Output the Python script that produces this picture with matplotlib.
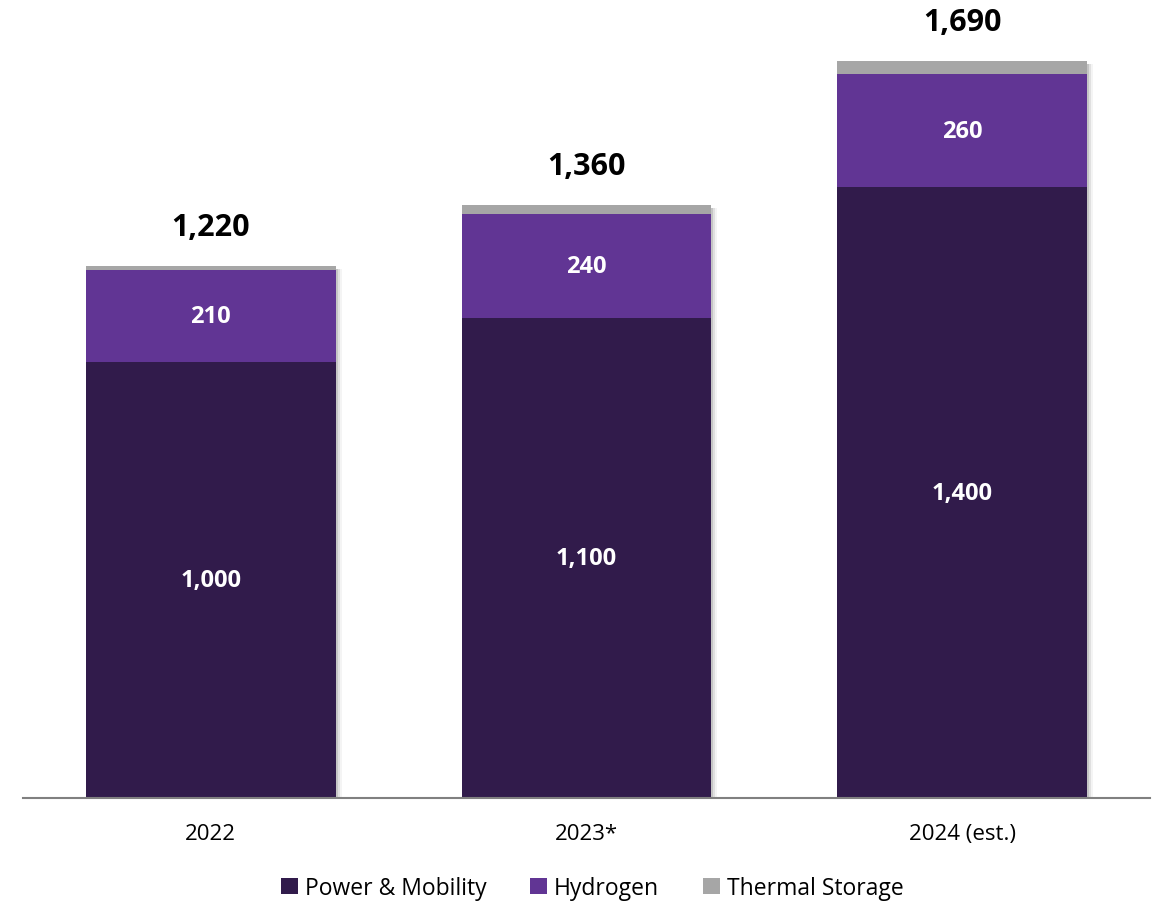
import numpy as np
import matplotlib.pyplot as plt

plt.rcParams['font.family'] = ['Open Sans', 'DejaVu Sans']

# data
years = ['2022', '2023*', '2024 (est.)']
power_mobility = [1000, 1100, 1400]
hydrogen = [210, 240, 260]
thermal = [10, 20, 30]
totals = [1220, 1360, 1690]

series_names = ['Power & Mobility', 'Hydrogen', 'Thermal Storage']
colors = ['#311B4B', '#613594', '#A6A6A6']

fig = plt.figure(figsize=(11.52, 9.03), dpi=100)
ax = fig.add_axes([23 / 1152, 1 - 799 / 903, 1127 / 1152, 785 / 903])

x = np.arange(len(years))
w = 0.665
px = 1 / 376  # one pixel in x data units

# soft shadow behind each stack, to the right
stack_h = np.array(power_mobility) + np.array(hydrogen) + np.array(thermal)
for k, a in zip([2, 4, 6], [0.25, 0.15, 0.08]):
    ax.bar(x + k * px, stack_h - 6, w, color='#777777', alpha=a, linewidth=0, zorder=1)

bottom = np.zeros(len(years))
for vals, name, c in zip([power_mobility, hydrogen, thermal], series_names, colors):
    ax.bar(x, vals, w, bottom=bottom, color=c, label=name, linewidth=0, zorder=2)
    bottom += np.array(vals)

# segment labels
for i in range(len(years)):
    ax.text(x[i], power_mobility[i] / 2, f'{power_mobility[i]:,}', ha='center', va='center',
            color='white', fontsize=17, fontweight='bold', zorder=3)
    ax.text(x[i], power_mobility[i] + hydrogen[i] / 2, f'{hydrogen[i]:,}', ha='center', va='center',
            color='white', fontsize=17, fontweight='bold', zorder=3)
    ax.text(x[i], totals[i] + 90, f'{totals[i]:,}', ha='center', va='center',
            color='black', fontsize=22, fontweight='bold', zorder=3)

ax.set_xlim(-0.5, 2.5)
ax.set_ylim(0, 1800)
ax.set_xticks(x)
ax.set_xticklabels(years, fontsize=16)
ax.tick_params(axis='x', length=0, pad=18)
ax.set_yticks([])
for s in ['top', 'right', 'left']:
    ax.spines[s].set_visible(False)
ax.spines['bottom'].set_color('#808080')
ax.spines['bottom'].set_linewidth(1.5)
ax.spines['bottom'].set_zorder(3)

fig.legend(loc='center', bbox_to_anchor=(592 / 1152, 1 - 889 / 903), ncol=3, frameon=False,
           fontsize=16.5, handlelength=0.75, handleheight=0.75, handletextpad=0.3, columnspacing=1.9)

fig.savefig('out.png', dpi=100)
